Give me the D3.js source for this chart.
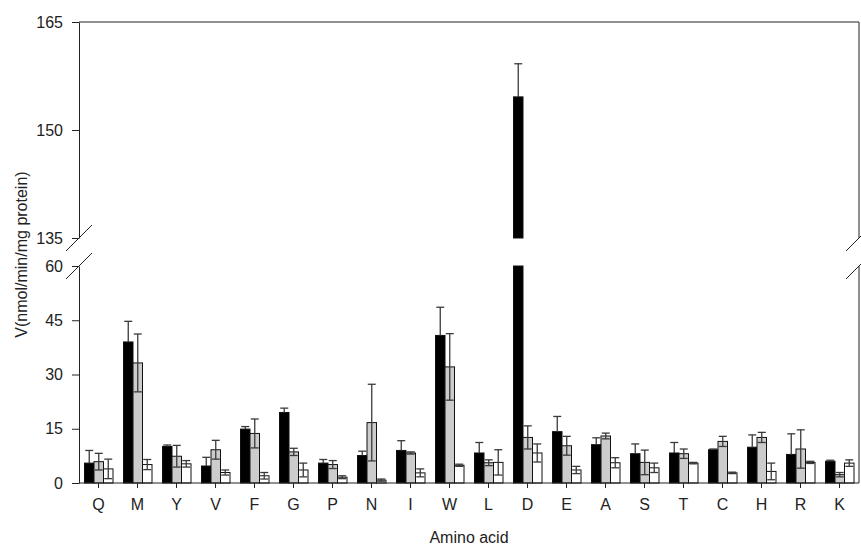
<!DOCTYPE html>
<html>
<head>
<meta charset="utf-8">
<script src="https://cdn.jsdelivr.net/npm/d3@7"></script>
<style>
  body { margin: 0; background: #fff; }
  text { font-family: "Liberation Sans", Arial, sans-serif; fill: #222; }
</style>
</head>
<body>
<div id="chart"></div>
<script>
// Data
const categories = ['Q','M','Y','V','F','G','P','N','I','W','L','D','E','A','S','T','C','H','R','K']
const series = ['black', 'grey', 'white']

const blackMean = [5.5, 39.0, 10.1, 4.7, 14.9, 19.5, 5.5, 7.6, 9.0, 40.8, 8.3, 154.6, 14.2, 10.6, 8.1, 8.3, 9.2, 9.9, 7.9, 6.0]
const blackErr  = [3.5, 5.7, 0.4, 2.4, 0.7, 1.2, 1.0, 1.2, 2.7, 7.8, 2.9, 4.6, 4.2, 1.9, 2.7, 2.9, 0.2, 3.4, 5.7, 0.3]
const greyMean  = [5.9, 33.2, 7.4, 9.2, 13.7, 8.6, 5.1, 16.7, 8.3, 32.1, 5.6, 12.6, 10.3, 13.0, 5.7, 8.1, 11.5, 12.6, 9.4, 2.3]
const greyErr   = [2.3, 8.0, 3.0, 2.6, 4.0, 1.0, 1.1, 10.6, 0.3, 9.2, 0.8, 3.2, 2.6, 0.8, 3.4, 1.3, 1.4, 1.4, 5.3, 0.6]
const whiteMean = [3.9, 5.1, 5.3, 2.9, 2.0, 3.6, 1.6, 0.8, 2.8, 4.9, 5.7, 8.3, 3.6, 5.6, 4.2, 5.5, 2.8, 3.2, 5.7, 5.5]
const whiteErr  = [2.7, 1.4, 0.9, 0.7, 0.9, 1.9, 0.4, 0.3, 1.1, 0.3, 3.5, 2.5, 1.0, 1.4, 1.3, 0.2, 0.2, 2.3, 0.3, 0.9]

const lowTicks = [0, 15, 30, 45, 60]
const highTicks = [135, 150, 165]

const fills = { black: '#000', grey: '#cccccc', white: '#fff' }

// Canvas
const width = 861, height = 549
const plotLeft = 79, plotRight = 859
const plotTop = 22, breakTop = 238, breakBottom = 266, plotBottom = 483

const svg = d3.select('#chart')
  .append('svg')
  .attr('width', width)
  .attr('height', height)

// Scales
const x = d3.scaleBand()
  .domain(categories)
  .range([plotLeft, plotRight])

const xInner = d3.scaleBand()
  .domain(series)
  .range([5.5, x.bandwidth() - 5])

const yLow = d3.scaleLinear()
  .domain([0, 60])
  .range([plotBottom, breakBottom])

const yHigh = d3.scaleLinear()
  .domain([135, 165])
  .range([breakTop, plotTop])

// Build rows
const means = { black: blackMean, grey: greyMean, white: whiteMean }
const errs = { black: blackErr, grey: greyErr, white: whiteErr }
let rows = []
categories.forEach((c, i) => {
  series.forEach(s => {
    rows.push({ cat: c, s: s, v: means[s][i], e: errs[s][i] })
  })
})

const yOf = v => v <= 60 ? yLow(v) : (v >= 135 ? yHigh(v) : null)
const bw = xInner.bandwidth()

// Bars: lower panel
svg.append('g')
  .selectAll('rect')
  .data(rows)
  .enter()
  .append('rect')
  .attr('x', d => x(d.cat) + xInner(d.s))
  .attr('y', d => yLow(Math.min(d.v, 60)))
  .attr('width', bw)
  .attr('height', d => plotBottom - yLow(Math.min(d.v, 60)))
  .attr('fill', d => fills[d.s])
  .attr('stroke', '#111')
  .attr('stroke-width', 1)

// Bars: upper panel (only the tall one)
svg.append('g')
  .selectAll('rect')
  .data(rows.filter(d => d.v > 135))
  .enter()
  .append('rect')
  .attr('x', d => x(d.cat) + xInner(d.s))
  .attr('y', d => yHigh(d.v))
  .attr('width', bw)
  .attr('height', d => breakTop - yHigh(d.v))
  .attr('fill', d => fills[d.s])
  .attr('stroke', '#111')

// Error bars (lower half only shows on the light bars)
const errG = svg.append('g')
  .attr('stroke', '#3a3a3a')
  .attr('stroke-width', 1.3)
  .attr('fill', 'none')

rows.forEach(d => {
  const cx = x(d.cat) + xInner(d.s) + bw / 2
  const hi = yOf(d.v + d.e)
  const mid = yOf(d.v)
  const lo = d.s === 'black' ? mid : yOf(Math.max(d.v - d.e, 0))
  const cap = 4
  errG.append('line')
    .attr('x1', cx).attr('x2', cx)
    .attr('y1', hi).attr('y2', lo)
  errG.append('line')
    .attr('x1', cx - cap).attr('x2', cx + cap)
    .attr('y1', hi).attr('y2', hi)
  if (d.s !== 'black') {
    errG.append('line')
      .attr('x1', cx - cap).attr('x2', cx + cap)
      .attr('y1', lo).attr('y2', lo)
  }
})

// Axes
const axisStyle = g => {
  g.selectAll('text').style('font-size', '16px').attr('fill', '#222')
  g.selectAll('line, path').attr('stroke', '#222')
}

svg.append('g')
  .attr('transform', `translate(${plotLeft},0)`)
  .call(d3.axisLeft(yLow).tickValues(lowTicks).tickSize(7).tickPadding(9).tickSizeOuter(0))
  .call(axisStyle)

svg.append('g')
  .attr('transform', `translate(${plotLeft},0)`)
  .call(d3.axisLeft(yHigh).tickValues(highTicks).tickSize(7).tickPadding(9).tickSizeOuter(0))
  .call(axisStyle)

svg.append('g')
  .attr('transform', `translate(0,${plotBottom})`)
  .call(d3.axisBottom(x).tickSize(5).tickPadding(11).tickSizeOuter(0))
  .call(axisStyle)
  .call(g => g.select('.domain').attr('d', `M${plotLeft},0H${plotRight}`))

// Frame: top line and right side
const frame = svg.append('g').attr('stroke', '#222').attr('stroke-width', 1)
frame.append('line').attr('x1', plotLeft).attr('x2', plotRight).attr('y1', plotTop).attr('y2', plotTop)
frame.append('line').attr('x1', plotRight).attr('x2', plotRight).attr('y1', plotTop).attr('y2', breakTop)
frame.append('line').attr('x1', plotRight).attr('x2', plotRight).attr('y1', breakBottom).attr('y2', plotBottom)

// Break marks
;[plotLeft, plotRight].forEach(ax => {
  ;[breakTop, breakBottom].forEach(by => {
    frame.append('line')
      .attr('x1', ax - 13).attr('y1', by + 13)
      .attr('x2', ax + 13).attr('y2', by - 13)
  })
})

// Titles
svg.append('text')
  .attr('x', (plotLeft + plotRight) / 2)
  .attr('y', 543)
  .attr('text-anchor', 'middle')
  .style('font-size', '16px')
  .text('Amino acid')

svg.append('text')
  .attr('transform', `translate(27,${(plotTop + plotBottom) / 2 + 2}) rotate(-90)`)
  .attr('text-anchor', 'middle')
  .style('font-size', '16px')
  .text('V(nmol/min/mg protein)')
</script>
</body>
</html>
